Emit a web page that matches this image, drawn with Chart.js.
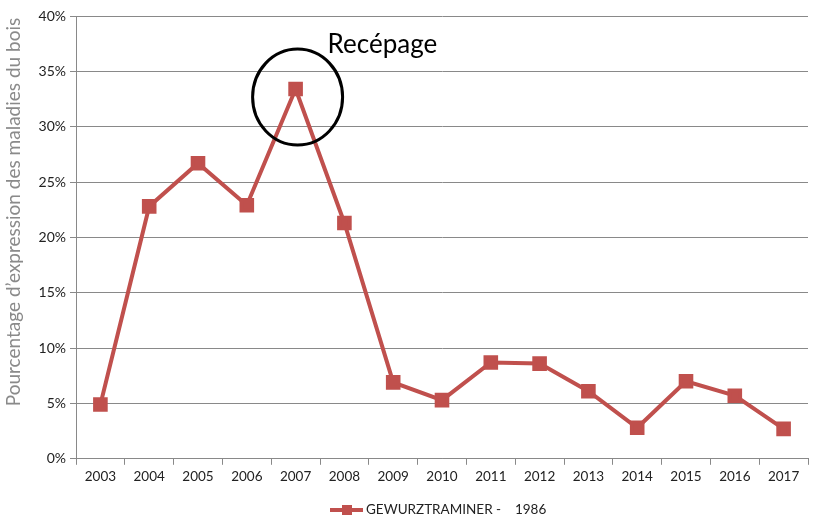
<!DOCTYPE html>
<html>
<head>
<meta charset="utf-8">
<script src="https://cdn.jsdelivr.net/npm/chart.js@4.4.1/dist/chart.umd.min.js"></script>
<style>
  html, body { margin: 0; padding: 0; background: #fff; }
  #wrap { width: 825px; height: 531px; }
</style>
</head>
<body>
<div id="wrap"><canvas id="chart"></canvas></div>
<script>
const years = ["2003", "2004", "2005", "2006", "2007", "2008", "2009", "2010",
  "2011", "2012", "2013", "2014", "2015", "2016", "2017"];
const expression = [4.9, 22.8, 26.7, 22.9, 33.4, 21.3, 6.9, 5.3, 8.7, 8.6, 6.1, 2.8, 7.0, 5.7, 2.7];
const seriesLabel = "GEWURZTRAMINER -    1986";
const yTitle = "Pourcentage d’expression des maladies du bois";
const noteYear = "2007";
const noteText = "Recépage";

const red = "#C0504D";
const grey = "#898989";
const font = "Lato, 'Open Sans', sans-serif";

// cercle + texte "Recépage", titre de l'axe y et légende en bas
const annotate = {
    id: "annotate",
    afterDatasetsDraw(chart) {
        const { ctx } = chart;
        const x = chart.scales.x;
        const y = chart.scales.y;
        const i = years.indexOf(noteYear);
        const px = x.getPixelForValue(i);
        const py = y.getPixelForValue(expression[i]);

        ctx.save();
        ctx.strokeStyle = "#000";
        ctx.lineWidth = 3;
        ctx.beginPath();
        ctx.ellipse(px + 2, py + 8, 45, 48, 0, 0, Math.PI * 2);
        ctx.stroke();

        ctx.fillStyle = "#000";
        ctx.font = "26px " + font;
        ctx.textBaseline = "alphabetic";
        ctx.fillText(noteText, px + 32, py - 36);

        // titre axe y
        ctx.save();
        ctx.translate(14, 212);
        ctx.rotate(-Math.PI / 2);
        ctx.fillStyle = "#8a8a8a";
        ctx.font = "19px " + font;
        ctx.textAlign = "center";
        ctx.textBaseline = "middle";
        ctx.fillText(yTitle, 0, 0);
        ctx.restore();

        // légende
        const ly = 510;
        const lx = 330;
        ctx.strokeStyle = red;
        ctx.lineWidth = 4;
        ctx.beginPath();
        ctx.moveTo(lx, ly);
        ctx.lineTo(lx + 33, ly);
        ctx.stroke();
        ctx.fillStyle = red;
        ctx.fillRect(lx + 12, ly - 5, 10, 10);
        ctx.fillStyle = "#222";
        ctx.font = "13.5px " + font;
        ctx.textBaseline = "middle";
        ctx.fillText(seriesLabel, lx + 36, ly);
        ctx.restore();
    }
};

new Chart(document.getElementById("chart"), {
    type: "line",
    data: {
        labels: years,
        datasets: [{
            label: seriesLabel,
            data: expression,
            borderColor: red,
            backgroundColor: red,
            borderWidth: 4,
            pointStyle: "rect",
            pointRadius: 7.5,
            pointHoverRadius: 7.5,
            tension: 0
        }]
    },
    options: {
        responsive: true,
        maintainAspectRatio: false,
        animation: false,
        layout: { padding: { top: 16, right: 17, bottom: 42, left: 0 } },
        plugins: {
            legend: { display: false },
            tooltip: { enabled: false }
        },
        scales: {
            x: {
                offset: true,
                grid: { display: true, offset: true, drawOnChartArea: false, tickLength: 6, color: grey },
                border: { color: grey, width: 1 },
                ticks: { color: "#222", font: { family: font, size: 13.5 }, padding: 4, maxRotation: 0 }
            },
            y: {
                min: 0,
                max: 40,
                afterFit(s) { s.width = 76; },
                grid: { color: grey, tickLength: 6 },
                border: { color: grey, width: 1 },
                ticks: {
                    stepSize: 5,
                    color: "#222",
                    font: { family: font, size: 14 },
                    padding: 4,
                    callback: v => v + "%"
                }
            }
        }
    },
    plugins: [annotate]
});
</script>
</body>
</html>
